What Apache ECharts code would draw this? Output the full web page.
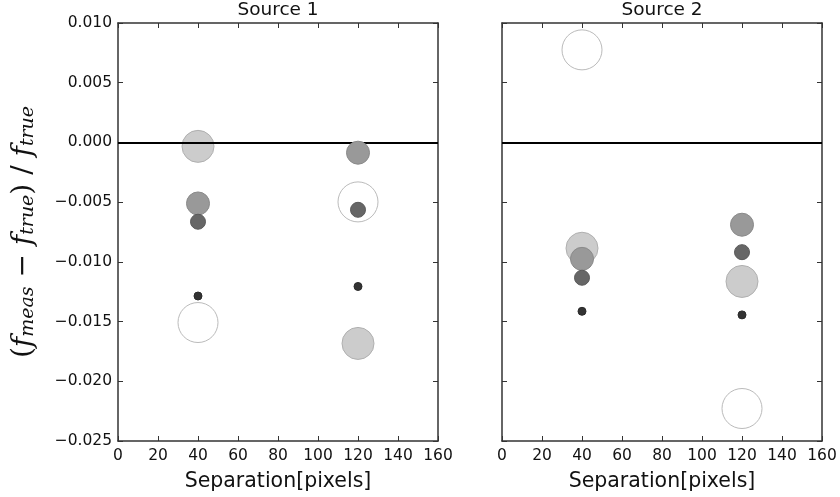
<!DOCTYPE html>
<html><head><meta charset="utf-8">
<script src="https://cdn.jsdelivr.net/npm/echarts@6/dist/echarts.min.js"></script>
<style>html,body{margin:0;padding:0;background:#fff}#c{width:840px;height:497px}</style>
</head><body><div id="c"></div>
<script>
const separations = [40, 120];
const xTicks = [0, 20, 40, 60, 80, 100, 120, 140, 160];
const yTicks = [-0.025, -0.020, -0.015, -0.010, -0.005, 0.000, 0.005, 0.010];
const panelTitles = ["Source 1", "Source 2"];
// Source 1 values at separations 40 and 120
const s1_open  = [-0.01508, -0.00498];
const s1_light = [-0.00033, -0.01683];
const s1_mid   = [-0.00511, -0.00086];
const s1_dark  = [-0.00664, -0.00564];
const s1_black = [-0.01286, -0.01206];
// Source 2
const s2_open  = [0.00775, -0.02228];
const s2_light = [-0.00886, -0.01164];
const s2_mid   = [-0.00975, -0.00689];
const s2_dark  = [-0.01133, -0.00919];
const s2_black = [-0.01414, -0.01444];

const styles = [
  {size: 40, color: '#ffffff', border: '#bbbbbb'},
  {size: 32, color: '#cccccc', border: '#b0b0b0'},
  {size: 23, color: '#999999', border: '#8a8a8a'},
  {size: 15, color: '#666666', border: '#5a5a5a'},
  {size: 8,  color: '#333333', border: '#2a2a2a'}
];
const panels = [
  [s1_open, s1_light, s1_mid, s1_dark, s1_black],
  [s2_open, s2_light, s2_mid, s2_dark, s2_black]
];

const FONT = 'DejaVu Sans';
const grids = [
  {left: 118, top: 23, width: 320, height: 420},
  {left: 502, top: 23, width: 320, height: 420}
];
const axisLine = {show: true, onZero: false, lineStyle: {color: '#333', width: 1.5}};
const tick = {show: true, inside: true, length: 5, lineStyle: {color: '#333', width: 1}};
const fmtY = v => { const r = Math.round(v * 1000) / 1000; return (r < 0 ? '\u2212' : '') + Math.abs(r).toFixed(3); };

const xAxis = [], yAxis = [], series = [], title = [];
for (let g = 0; g < 2; g++) {
  xAxis.push({type: 'value', gridIndex: g, min: xTicks[0], max: xTicks[xTicks.length-1], interval: 20, position: 'bottom',
    axisLine, axisTick: tick, splitLine: {show: false},
    axisLabel: {show: true, color: '#111', fontFamily: FONT, fontSize: 15.5, margin: 7},
    name: 'Separation[pixels]', nameLocation: 'middle', nameGap: 30,
    nameTextStyle: {fontFamily: FONT, fontSize: 20.5, color: '#111'}});
  xAxis.push({type: 'value', gridIndex: g, min: xTicks[0], max: xTicks[xTicks.length-1], interval: 20, position: 'top',
    axisLine, axisTick: tick, splitLine: {show: false}, axisLabel: {show: false}});
  yAxis.push({type: 'value', gridIndex: g, min: yTicks[0], max: yTicks[yTicks.length-1], interval: 0.005, position: 'left',
    axisLine, axisTick: tick, splitLine: {show: false},
    axisLabel: {show: g === 0, formatter: fmtY, color: '#111', fontFamily: FONT, fontSize: 15.5, margin: 6},
    name: g === 0 ? '{p|(}{f|f}{s|meas}{p| \u2212 }{f|f}{s|true}{p|) / }{f|f}{s|true}' : '',
    nameLocation: 'middle', nameGap: 80, nameRotate: 90,
    nameTextStyle: {rich: {
      p: {fontFamily: 'DejaVu Serif', fontSize: 28, color: '#111', verticalAlign: 'bottom', lineHeight: 32},
      f: {fontFamily: 'DejaVu Serif', fontStyle: 'italic', fontSize: 28, color: '#111', verticalAlign: 'bottom', lineHeight: 32},
      s: {fontFamily: 'DejaVu Serif', fontStyle: 'italic', fontSize: 19, color: '#111', verticalAlign: 'bottom', lineHeight: 22}
    }}});
  yAxis.push({type: 'value', gridIndex: g, min: yTicks[0], max: yTicks[yTicks.length-1], interval: 0.005, position: 'right',
    axisLine, axisTick: tick, splitLine: {show: false}, axisLabel: {show: false}});

  series.push({type: 'scatter', xAxisIndex: g*2, yAxisIndex: g*2, data: [], z: 1, silent: true,
    markLine: {silent: true, symbol: 'none', label: {show: false}, lineStyle: {color: '#000', width: 2, type: 'solid'},
      data: [{yAxis: 0}]}});
  panels[g].forEach((vals, k) => {
    const st = styles[k];
    series.push({type: 'scatter', xAxisIndex: g*2, yAxisIndex: g*2, z: 3 + k,
      symbol: 'circle', symbolSize: st.size,
      itemStyle: {color: st.color, borderColor: st.border, borderWidth: 1, opacity: 1},
      data: separations.map((x, i) => [x, vals[i]])});
  });
  title.push({text: panelTitles[g], left: grids[g].left + grids[g].width/2, top: 1, padding: 0, textAlign: 'center',
    textStyle: {fontFamily: FONT, fontSize: 18.5, fontWeight: 'normal', color: '#111'}});
}

const chart = echarts.init(document.getElementById('c'), null, {renderer: 'canvas'});
chart.setOption({animation: false, backgroundColor: '#fff', title, grid: grids, xAxis, yAxis, series});
</script></body></html>
